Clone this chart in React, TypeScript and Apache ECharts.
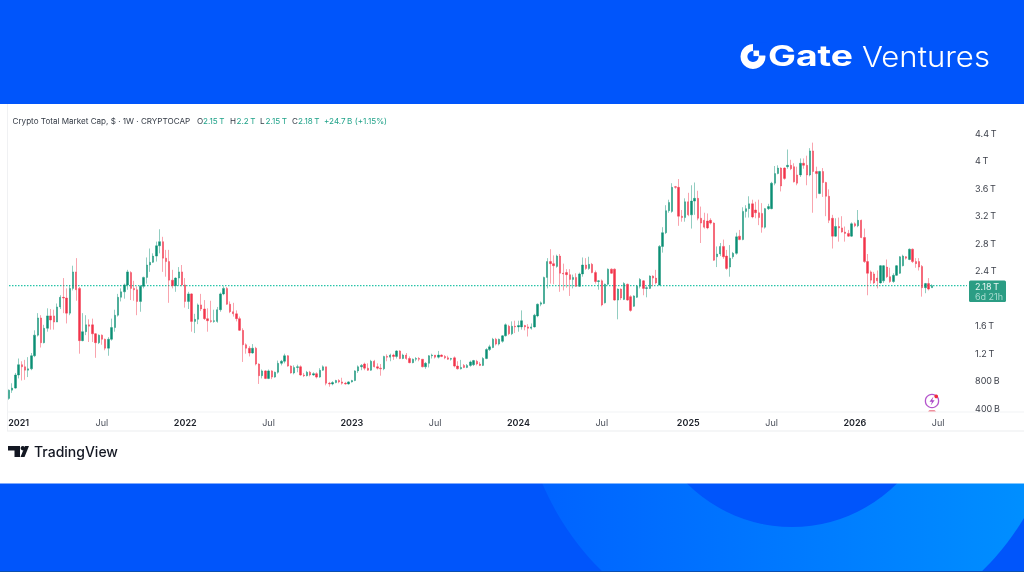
import React, { useEffect, useRef } from "react";
import * as echarts from "echarts";

// [open, close, low, high] in trillions of USD, weekly
const candles2021 = [
[.54,.66,.52,.67],[.66,.69,.62,.76],[.69,.88,.68,.91],[.88,1.03,.83,1.12],[1.03,1.00,.80,1.08],[1.00,.95,.81,1.10],[.95,.97,.85,1.14],[.97,1.16,.95,1.20],[1.16,1.46,1.14,1.53],[1.46,1.71,1.44,1.78],
[1.71,1.35,1.28,1.75],[1.35,1.56,1.34,1.61],[1.56,1.74,1.51,1.85],[1.74,1.68,1.54,1.84],[1.74,1.65,1.54,1.83],[1.65,1.87,1.65,1.92],[1.87,2.01,1.84,2.04],[2.01,2.00,1.78,2.29],[2.00,1.78,1.63,2.14],[1.78,2.14,1.75,2.19],
[2.14,2.38,2.11,2.47],[2.38,2.12,1.96,2.58],[2.14,1.38,1.19,2.16],[1.38,1.51,1.37,1.78],[1.51,1.61,1.46,1.75],[1.61,1.59,1.36,1.69],[1.61,1.48,1.36,1.70],[1.48,1.35,1.13,1.49],[1.35,1.46,1.33,1.47],[1.46,1.40,1.32,1.47],
[1.40,1.27,1.24,1.41],[1.27,1.40,1.16,1.43],[1.40,1.57,1.38,1.70],[1.57,1.75,1.51,1.83],[1.75,2.01,1.73,2.06],[2.01,2.09,1.95,2.14],[2.09,2.19,1.99,2.21],[2.19,2.38,2.12,2.41],[2.37,2.14,1.97,2.39],[2.14,2.12,1.96,2.25],
[2.12,1.95,1.75,2.17],[1.95,2.17,1.80,2.19],[2.17,2.30,2.14,2.31],[2.30,2.48,2.21,2.59],[2.48,2.52,2.38,2.72],[2.52,2.61,2.51,2.65],[2.61,2.76,2.53,2.82],[2.76,2.82,2.65,3.00],[2.82,2.58,2.38,2.89],[2.58,2.53,2.31,2.70],
[2.53,2.26,1.93,2.70],[2.26,2.18,2.14,2.41],[2.18,2.29,2.09,2.30],[2.29,2.38,2.18,2.45],[2.38,2.19,2.17,2.48],
];
const candles2022 = [
[2.19,1.95,1.86,2.29],[1.95,2.06,1.84,2.09],[2.06,1.66,1.51,2.07],[1.66,1.69,1.49,1.77],[1.69,1.90,1.62,1.92],[1.90,1.84,1.81,2.06],[1.84,1.70,1.68,1.97],[1.70,1.67,1.51,1.85],[1.67,1.66,1.64,1.96],[1.66,1.67,1.64,1.83],
[1.66,1.83,1.64,1.87],[1.83,2.06,1.80,2.08],[2.06,2.14,2.04,2.17],[2.14,1.91,1.90,2.16],[1.91,1.80,1.78,1.95],[1.80,1.77,1.73,1.93],[1.77,1.70,1.66,1.82],[1.70,1.53,1.52,1.73],[1.53,1.32,1.07,1.56],[1.32,1.27,1.19,1.34],
[1.27,1.20,1.15,1.30],[1.20,1.27,1.19,1.33],[1.27,1.04,1.02,1.29],[1.04,.87,.75,1.05],[.87,.94,.83,.96],[.94,.83,.82,.95],[.83,.94,.82,.96],[.94,.85,.82,.95],[.85,.92,.84,.93],[.92,1.05,.90,1.09],
[1.05,1.08,1.02,1.10],[1.08,1.16,1.05,1.19],[1.16,1.01,1.00,1.17],[1.01,.91,.90,1.02],[.91,.99,.89,1.02],[.99,1.00,.92,1.03],[1.00,.88,.87,1.02],[.88,.87,.85,.91],[.87,.92,.86,.94],[.92,.88,.86,.94],
[.88,.90,.87,.92],[.90,.85,.83,.92],[.85,.95,.84,.98],[.95,1.00,.94,1.02],[1.00,.76,.73,1.00],[.76,.75,.71,.78],[.75,.77,.73,.79],[.77,.80,.76,.81],[.80,.78,.76,.82],[.78,.76,.74,.84],[.76,.75,.74,.78],[.75,.78,.74,.79],
];
const candles2023 = [
[.78,.80,.77,.81],[.80,.94,.79,.95],[.94,1.00,.91,1.02],[1.00,1.02,.95,1.04],[1.04,.98,.95,1.06],[.98,.95,.94,1.05],[.95,1.08,.94,1.10],[1.08,1.00,.99,1.10],[1.00,.98,.96,1.05],[.98,.97,.87,1.04],
[.97,1.15,.95,1.16],[1.15,1.14,1.08,1.18],[1.14,1.17,1.08,1.19],[1.17,1.15,1.10,1.19],[1.15,1.23,1.12,1.24],[1.23,1.12,1.11,1.24],[1.12,1.17,1.11,1.19],[1.17,1.12,1.10,1.20],[1.12,1.06,1.05,1.15],[1.06,1.11,1.05,1.12],
[1.11,1.12,1.08,1.14],[1.12,1.11,1.08,1.14],[1.11,1.00,.99,1.11],[1.00,1.05,.97,1.07],[1.05,1.16,.99,1.17],[1.16,1.17,1.12,1.19],[1.17,1.14,1.12,1.17],[1.14,1.17,1.12,1.23],[1.17,1.15,1.14,1.18],[1.15,1.13,1.11,1.17],
[1.13,1.11,1.10,1.16],[1.11,1.12,1.09,1.13],[1.13,1.01,.99,1.15],[1.01,.97,.96,1.08],[.97,.99,.96,1.10],[1.02,.99,.98,1.04],[.99,1.02,.98,1.04],[1.02,1.07,1.00,1.09],[1.03,1.09,1.01,1.10],[1.08,1.04,1.02,1.10],
[1.04,1.02,1.01,1.07],[1.02,1.12,1.01,1.14],[1.12,1.25,1.11,1.27],[1.25,1.29,1.23,1.32],[1.28,1.40,1.27,1.42],[1.40,1.33,1.31,1.42],[1.33,1.40,1.31,1.41],[1.37,1.45,1.35,1.46],[1.45,1.61,1.44,1.63],[1.59,1.48,1.46,1.61],[1.48,1.59,1.46,1.66],[1.59,1.58,1.49,1.67],
];
const candles2024 = [
[1.58,1.60,1.51,1.67],[1.58,1.67,1.54,1.82],[1.60,1.58,1.53,1.61],[1.58,1.56,1.44,1.62],[1.56,1.58,1.54,1.63],[1.58,1.75,1.57,1.77],[1.74,1.91,1.72,1.92],[1.91,1.93,1.88,1.95],[1.92,2.30,1.91,2.31],[2.30,2.53,2.14,2.58],
[2.53,2.50,2.21,2.71],[2.50,2.47,2.20,2.62],[2.46,2.61,2.44,2.63],[2.61,2.36,2.09,2.64],[2.36,2.35,2.11,2.50],[2.37,2.34,2.15,2.42],[2.34,2.27,2.03,2.42],[2.27,2.30,2.14,2.34],[2.30,2.17,2.16,2.36],[2.17,2.35,2.16,2.37],
[2.35,2.48,2.31,2.59],[2.48,2.43,2.41,2.58],[2.43,2.49,2.41,2.60],[2.49,2.37,2.36,2.51],[2.37,2.24,2.21,2.40],[2.24,2.25,2.12,2.26],[2.25,1.90,1.88,2.27],[1.93,2.20,1.92,2.21],[2.20,2.42,2.19,2.43],[2.42,2.36,2.35,2.43],
[2.42,1.97,1.96,2.43],[1.97,2.13,1.69,2.14],[2.13,2.00,1.97,2.14],[1.98,2.21,1.97,2.23],[2.20,1.97,1.96,2.21],[2.02,1.82,1.80,2.04],[1.88,2.03,1.87,2.04],[2.01,2.17,2.00,2.19],[2.17,2.27,2.14,2.29],[2.25,2.14,2.04,2.26],
[2.14,2.15,2.01,2.17],[2.14,2.32,2.13,2.33],[2.32,2.29,2.17,2.33],[2.29,2.22,2.20,2.41],[2.19,2.75,2.18,2.77],[2.75,2.95,2.66,3.03],[2.95,3.27,2.93,3.35],[3.27,3.39,3.24,3.43],[3.26,3.61,3.24,3.67],[3.62,3.61,3.59,3.63],[3.61,3.19,3.05,3.73],[3.19,3.17,3.11,3.28],[3.17,3.40,3.11,3.45],
];
const candles2025 = [
[3.40,3.21,3.19,3.53],[3.21,3.41,3.01,3.64],[3.41,3.45,3.21,3.68],[3.45,3.16,3.13,3.56],[3.16,3.09,2.80,3.33],[3.13,3.03,3.01,3.24],[3.12,3.02,3.00,3.23],[3.13,3.09,3.07,3.16],[3.09,2.55,2.54,3.10],[2.60,2.64,2.45,2.75],
[2.64,2.75,2.61,2.80],[2.75,2.60,2.57,2.85],[2.61,2.43,2.41,2.70],[2.45,2.58,2.31,2.77],[2.60,2.65,2.57,2.67],[2.65,2.89,2.63,2.95],[2.90,2.85,2.84,2.99],[2.85,3.26,2.84,3.32],[3.26,3.30,3.17,3.35],[3.30,3.37,3.17,3.48],
[3.37,3.18,3.16,3.43],[3.28,3.24,3.16,3.40],[3.24,3.17,3.06,3.43],[3.23,3.03,2.95,3.38],[3.03,3.30,3.01,3.31],[3.30,3.33,3.28,3.37],[3.30,3.67,3.29,3.69],[3.67,3.81,3.64,3.92],[3.81,3.89,3.80,3.93],[3.89,3.63,3.55,3.90],
[3.89,3.74,3.72,3.90],[3.91,3.93,3.88,4.16],[3.93,3.88,3.86,4.01],[3.91,3.69,3.68,3.96],[3.79,3.67,3.64,3.91],[3.79,3.96,3.76,4.03],[3.96,3.93,3.88,4.03],[3.93,3.79,3.64,4.07],[3.79,4.14,3.77,4.18],[4.14,3.84,3.24,4.26],
[3.84,3.81,3.45,3.91],[3.52,3.84,3.51,3.85],[3.84,3.68,3.47,3.89],[3.68,3.48,3.19,3.69],[3.48,3.13,3.09,3.58],[3.16,2.90,2.72,3.21],[2.90,3.04,2.89,3.16],[3.04,3.02,2.82,3.17],[3.02,2.96,2.95,3.19],[2.96,2.94,2.82,3.04],[2.94,2.90,2.89,2.99],[2.90,3.08,2.89,3.10],
];
const candles2026 = [
[3.08,3.05,3.03,3.10],[3.05,3.13,3.03,3.28],[3.13,2.88,2.87,3.14],[2.88,2.53,2.51,3.01],[2.53,2.36,2.04,2.64],[2.38,2.26,2.21,2.40],[2.35,2.22,2.20,2.38],[2.29,2.25,2.14,2.40],[2.22,2.47,2.21,2.48],[2.25,2.47,2.22,2.48],
[2.45,2.31,2.29,2.56],[2.31,2.24,2.22,2.44],[2.24,2.33,2.22,2.36],[2.33,2.47,2.32,2.48],[2.36,2.60,2.35,2.61],[2.47,2.61,2.46,2.63],[2.60,2.58,2.56,2.61],[2.56,2.71,2.55,2.72],[2.71,2.53,2.51,2.72],[2.53,2.50,2.44,2.58],
[2.53,2.45,2.40,2.58],[2.46,2.15,2.02,2.48],[2.15,2.21,2.07,2.22],[2.21,2.13,2.11,2.29],[2.15,2.18,2.15,2.20],
];

const candles = [...candles2021, ...candles2022, ...candles2023, ...candles2024, ...candles2025, ...candles2026];
const weekCount = 300; // room to the right of the last bar
const tickWeeks = [3, 29, 55, 81, 107, 133, 159, 185, 212, 238, 264, 290];
const tickLabels = ["2021", "Jul", "2022", "Jul", "2023", "Jul", "2024", "Jul", "2025", "Jul", "2026", "Jul"];
const lastClose = 2.18;
const priceLabels: Record<string, string> = {
  "0.4": "400\u202FB", "0.8": "800\u202FB", "1.2": "1.2\u202FT", "1.6": "1.6\u202FT", "2.4": "2.4\u202FT",
  "2.8": "2.8\u202FT", "3.2": "3.2\u202FT", "3.6": "3.6\u202FT", "4": "4\u202FT", "4.4": "4.4\u202FT",
};
const headerName = "Crypto Total Market Cap, $ · 1W · CRYPTOCAP";
const ohlcLabels = [["O", "2.15\u202FT"], ["H", "2.2\u202FT"], ["L", "2.15\u202FT"], ["C", "2.18\u202FT"]];
const changeLabel = "+24.7\u202FB (+1.15%)";

const UP = "#0b8f75";
const DOWN = "#f2334a";
const FONT = "Inter, 'Noto Sans', sans-serif";

function buildGraphic() {
  const cx = 753;
  const cy = 56.5;
  const ohlcX = [197, 230, 260, 292];
  const ohlcValX = [203, 236.5, 265.5, 298];
  const hdr = (text: string, x: number, fill: string) => ({
    type: "text", z: 7, x, y: 121,
    style: { text, fill, font: `400 8.1px ${FONT}`, textVerticalAlign: "middle", textAlign: "left" },
  });
  const els: any[] = [
    { type: "rect", z: 0, shape: { x: 0, y: 0, width: 1024, height: 572 }, style: { fill: "#0055fb" } },
    {
      type: "circle", z: 0, shape: { cx: 792, cy: 378, r: 271 },
      style: { fill: new echarts.graphic.LinearGradient(0, 0, 1, 0, [{ offset: 0, color: "#0061ff" }, { offset: 1, color: "#0092ff" }]) },
    },
    { type: "circle", z: 0, shape: { cx: 792, cy: 378.5, r: 148.5 }, style: { fill: "#0055fb" } },
    { type: "rect", z: 0, shape: { x: 0, y: 571, width: 1024, height: 1 }, style: { fill: "#0b4fae" } },
    { type: "rect", z: 0, shape: { x: 0, y: 0, width: 1024, height: 104 }, style: { fill: "#0055fb" } },
    { type: "rect", z: 0, shape: { x: 0, y: 104, width: 1024, height: 379.5 }, style: { fill: "#ffffff" } },
    // pane edges
    { type: "rect", z: 0, shape: { x: 7, y: 104, width: 1, height: 327 }, style: { fill: "#f0f1f3" } },
    { type: "rect", z: 0, shape: { x: 7, y: 411.5, width: 1017, height: 1 }, style: { fill: "#f2f3f5" } },
    { type: "rect", z: 0, shape: { x: 7, y: 430.5, width: 1017, height: 1 }, style: { fill: "#eceef0" } },
    // Gate logo
    { type: "ring", z: 5, shape: { cx, cy, r: 12.5, r0: 5.6 }, style: { fill: "#fff" } },
    { type: "rect", z: 6, shape: { x: cx, y: cy - 14, width: 14, height: 8.5 }, style: { fill: "#0055fb" } },
    { type: "rect", z: 6, shape: { x: cx + 6, y: cy - 6, width: 8, height: 5 }, style: { fill: "#0055fb" } },
    { type: "rect", z: 7, shape: { x: cx + 0.5, y: cy - 6, width: 5.6, height: 5.6 }, style: { fill: "#fff" } },
    { type: "text", z: 7, x: 768, y: 56, scaleX: 1.33, style: { text: "Gate", fill: "#fff", font: `700 28px ${FONT}`, textVerticalAlign: "middle", textAlign: "left" } },
    { type: "text", z: 7, x: 862, y: 57, scaleX: 1.11, style: { text: "Ventures", fill: "#fff", font: `300 28px ${FONT}`, textVerticalAlign: "middle", textAlign: "left" } },
    // TradingView logo
    { type: "polygon", z: 7, shape: { points: [[8, 446], [20, 446], [20, 457], [14.5, 457], [14.5, 450.5], [8, 450.5]] }, style: { fill: "#131722" } },
    { type: "circle", z: 7, shape: { cx: 22.8, cy: 448.2, r: 2.2 }, style: { fill: "#131722" } },
    { type: "polygon", z: 7, shape: { points: [[25, 446], [29, 446], [24.5, 457], [20.5, 457]] }, style: { fill: "#131722" } },
    { type: "text", z: 7, x: 34, y: 451.5, style: { text: "TradingView", fill: "#131722", font: `500 14px ${FONT}`, textVerticalAlign: "middle", textAlign: "left" } },
    // header
    hdr(headerName, 12.5, "#333a45"),
    ...ohlcLabels.flatMap(([k, v], i) => [hdr(k, ohlcX[i], "#333a45"), hdr(v, ohlcValX[i], "#22a38a")]),
    hdr(changeLabel, 324, "#22a38a"),
    // last price tag
    { type: "rect", z: 8, shape: { x: 969, y: 280.5, width: 37, height: 21.5, r: 1.5 }, style: { fill: "#2b9d84" } },
    { type: "text", z: 9, x: 975, y: 286.3, style: { text: "2.18\u202FT", fill: "#eaf6f3", font: `400 9px ${FONT}`, textVerticalAlign: "middle", textAlign: "left" } },
    { type: "text", z: 9, x: 975, y: 296, style: { text: "6d 21h", fill: "#a8dccf", font: `400 9px ${FONT}`, textVerticalAlign: "middle", textAlign: "left" } },
    // flash icon
    { type: "circle", z: 7, shape: { cx: 932, cy: 401, r: 6.6 }, style: { fill: "none", stroke: "#b455cc", lineWidth: 1.3 } },
    { type: "polygon", z: 7, shape: { points: [[933.5, 396.5], [929.5, 401.8], [932, 401.8], [930.7, 405.5], [934.6, 400.3], [932.2, 400.3]] }, style: { fill: "#a845c6" } },
    { type: "circle", z: 8, shape: { cx: 936.2, cy: 396.3, r: 1.9 }, style: { fill: "#f0283f" } },
    { type: "polygon", z: 7, shape: { points: [[928, 411.5], [929.5, 410], [934.5, 410], [936, 411.5]] }, style: { fill: "#ef8f9c" } },
  ];
  return els;
}

export default function App() {
  const ref = useRef<HTMLDivElement>(null);
  useEffect(() => {
    const chart = echarts.init(ref.current!, undefined, { renderer: "svg" });
    chart.setOption({
      animation: false,
      backgroundColor: "transparent",
      grid: { left: 7.4, right: 55.4, top: 133, bottom: 164, containLabel: false },
      xAxis: {
        type: "category",
        data: Array.from({ length: weekCount }, (_, i) => String(i)),
        boundaryGap: true,
        axisLine: { show: false },
        axisTick: { show: false },
        splitLine: { show: false },
        axisLabel: {
          margin: 9.5,
          fontFamily: FONT,
          fontSize: 9,
          color: "#4a4f5a",
          interval: (i: number) => tickWeeks.includes(i),
          formatter: (_v: string, i: number) => {
            const label = tickLabels[tickWeeks.indexOf(i)] ?? "";
            return label === "Jul" ? label : `{y|${label}}`;
          },
          rich: { y: { fontFamily: FONT, fontSize: 9, fontWeight: 600, color: "#1c2029" } },
        },
      },
      yAxis: {
        type: "value",
        position: "right",
        min: 0.4,
        max: 4.4,
        interval: 0.4,
        axisLine: { show: false },
        axisTick: { show: false },
        splitLine: { show: false },
        axisLabel: {
          margin: 6.5,
          fontFamily: FONT,
          fontSize: 9,
          color: "#3b3f49",
          formatter: (v: number) => priceLabels[String(Math.round(v * 10) / 10)] ?? "",
        },
      },
      series: [
        {
          type: "line",
          data: Array.from({ length: weekCount }, () => lastClose),
          showSymbol: false,
          silent: true,
          z: 2,
          itemStyle: { color: "#27c4a8" },
          lineStyle: { color: "#27c4a8", type: [1.5, 1.5], width: 1.1, opacity: 1 },
        },
        {
          type: "candlestick",
          data: candles,
          barWidth: 1.9,
          z: 3,
          itemStyle: { color: UP, color0: DOWN, borderColor: UP, borderColor0: DOWN, borderWidth: 0.45 },
        },
      ],
      graphic: { elements: buildGraphic() },
    });
    return () => chart.dispose();
  }, []);
  return <div ref={ref} style={{ position: "fixed", left: 0, top: 0, width: 1024, height: 572 }} />;
}
